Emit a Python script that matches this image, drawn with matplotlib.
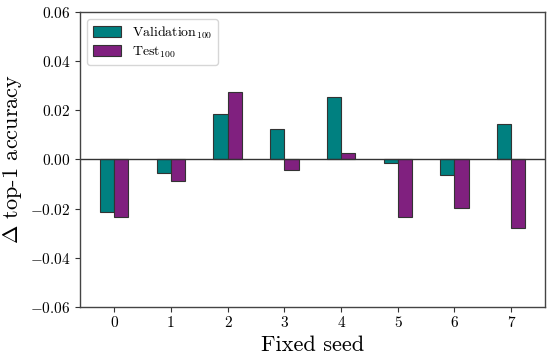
import numpy as np
import matplotlib
matplotlib.use("Agg")
import matplotlib.pyplot as plt

plt.rcParams['font.family'] = 'serif'
plt.rcParams['font.serif'] = ['cmr10']
plt.rcParams['mathtext.fontset'] = 'cm'
plt.rcParams['axes.formatter.use_mathtext'] = True

seeds = [0, 1, 2, 3, 4, 5, 6, 7]
val = [-0.0215, -0.0055, 0.0185, 0.0125, 0.0253, -0.0015, -0.0065, 0.0142]
test = [-0.0235, -0.0088, 0.0275, -0.0042, 0.0026, -0.0235, -0.0198, -0.0280]
yticks = [-0.06, -0.04, -0.02, 0.0, 0.02, 0.04, 0.06]

x = np.arange(len(seeds))
w = 0.25

fig = plt.figure(figsize=(5.5, 3.59), dpi=100)
ax = fig.add_axes([0.146, 0.145, 0.845, 0.822])
ax.bar(x - w/2, val, w, color='#008080', edgecolor='#333333', linewidth=0.8,
       label=r'Validation$_{100}$')
ax.bar(x + w/2, test, w, color='#80207f', edgecolor='#333333', linewidth=0.8,
       label=r'Test$_{100}$')
ax.axhline(0, color='#333333', linewidth=1.0)
ax.set_ylim(-0.06, 0.06)
ax.set_xlim(-0.6, 7.6)
ax.set_xticks(x)
ax.set_xticklabels([str(s) for s in seeds])
ax.set_yticks(yticks)
ax.set_yticklabels(['$%.2f$' % v if v != 0 else '$0.00$' for v in yticks])
ax.tick_params(labelsize=11, color='#333333')
for s in ax.spines.values():
    s.set_color('#444444')
    s.set_linewidth(1.0)
ax.set_xlabel('Fixed seed', fontsize=16)
ax.set_ylabel(r'$\Delta$ top-1 accuracy', fontsize=16)
ax.legend(loc='upper left', fontsize=10, handlelength=2.0, handleheight=0.9,
          labelspacing=0.25, borderpad=0.4, fancybox=True)
fig.savefig('out.png', dpi=100)
